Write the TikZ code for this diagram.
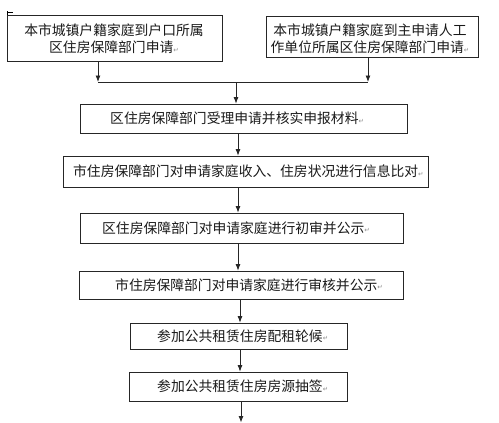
\documentclass[tikz,border=0pt]{standalone}
\usepackage{fontspec}
\setmainfont{Noto Sans CJK SC}
\newfontfamily\symf{DejaVu Sans}
\usetikzlibrary{arrows.meta}
\newcommand{\ret}{{\symf\fontsize{6.5}{6.5}\selectfont\color{black!45}\raisebox{0.5pt}{↵}}}
\begin{document}
\begin{tikzpicture}[x=1pt,y=-1pt,
  box/.style={draw=black!85,line width=0.8pt,rectangle,inner sep=0pt},
  txt/.style={inner sep=0pt,anchor=west,text=black!90,font=\fontsize{13.8}{16}\selectfont},
  ctxt/.style={inner sep=0pt,text=black!90,align=center,font=\fontsize{13.8}{17}\selectfont},
  ln/.style={draw=black!85,line width=0.8pt},
  arr/.style={ln,-{Latex[length=6.5pt,width=5pt]}}]
\useasboundingbox (0,0) rectangle (499,423);
% boxes
\node[box,minimum width=215pt,minimum height=46pt] (b1) at (114.5,38) {};
\node[box,minimum width=212pt,minimum height=41pt] (b2) at (372,36.5) {};
\node[box,minimum width=327pt,minimum height=29pt] (b3) at (243.5,118.5) {};
\node[box,minimum width=365pt,minimum height=31pt] (b4) at (245.5,171.5) {};
\node[box,minimum width=323pt,minimum height=30pt] (b5) at (241.5,228) {};
\node[box,minimum width=324pt,minimum height=28pt] (b6) at (241,285) {};
\node[box,minimum width=217pt,minimum height=26pt] (b7) at (238.5,336) {};
\node[box,minimum width=218pt,minimum height=29pt] (b8) at (238,386.5) {};
% texts
\node[ctxt] (t1) at (114,39) {本市城镇户籍家庭到户口所属\\区住房保障部门申请\ret};
\node[ctxt] (t2) at (370,39) {本市城镇户籍家庭到主申请人工\\作单位所属区住房保障部门申请\ret};
\node[txt] (t3) at (110,118.5) {区住房保障部门受理申请并核实申报材料\ret};
\node[txt] (t4) at (73,171.5) {市住房保障部门对申请家庭收入、住房状况进行信息比对\ret};
\node[txt] (t5) at (102,228) {区住房保障部门对申请家庭进行初审并公示\ret};
\node[txt] (t6) at (115,285) {市住房保障部门对申请家庭进行审核并公示\ret};
\node[txt] (t7) at (157,336) {参加公共租赁住房配租轮候\ret};
\node[txt] (t8) at (157,386.5) {参加公共租赁住房房源抽签\ret};
% anchor mark
\draw[black,line width=0.8pt] (7,15) -- (7,10.5);
\draw[black,line width=0.8pt] (7,12.5) -- (13,12.5);
% connectors
\coordinate (jL) at (98,82);
\coordinate (jR) at (368,82);
\coordinate (jM) at (236,82);
\coordinate (xa) at (238,0);
\coordinate (xb) at (240,0);
\coordinate (xc) at (241,0);
\coordinate (end) at (241,422.5);
\draw[arr] (b1.south -| jL) -- (jL);
\draw[arr] (b2.south -| jR) -- (jR);
\draw[ln] (jL) -- (jR);
\draw[arr] (jM) -- (b3.north -| jM);
\draw[arr] (b3.south -| xa) -- (b4.north -| xa);
\draw[arr] (b4.south -| xa) -- (b5.north -| xa);
\draw[arr] (b5.south -| xa) -- (b6.north -| xa);
\draw[arr] (b6.south -| xb) -- (b7.north -| xb);
\draw[arr] (b7.south -| xb) -- (b8.north -| xb);
\draw[arr] (b8.south -| xc) -- (end);
\end{tikzpicture}
\end{document}
